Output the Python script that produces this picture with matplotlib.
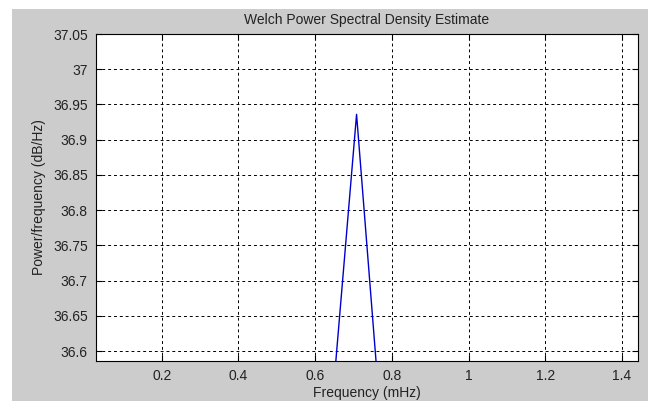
import matplotlib
matplotlib.use("Agg")
from matplotlib import pyplot as plt
from matplotlib.patches import Rectangle

plt.rcParams['font.family'] = ['Liberation Sans', 'DejaVu Sans']

# spectrum samples around the peak (mHz, dB/Hz)
freq = [0.566, 0.637, 0.708, 0.779, 0.850]
power = [36.02, 36.476, 36.936, 36.446, 35.98]

xticks = [0.2, 0.4, 0.6, 0.8, 1.0, 1.2, 1.4]
yticks = [36.6, 36.65, 36.7, 36.75, 36.8, 36.85, 36.9, 36.95, 37.0, 37.05]

fig = plt.figure(figsize=(6.48, 4.01), dpi=100, facecolor='white')
fig.patches.append(Rectangle((12 / 648, 0), 1, 1 - 9 / 401, transform=fig.transFigure,
                             facecolor='#cccccc', edgecolor='none', zorder=-10))

ax = fig.add_axes([96 / 648, 1 - 361 / 401, 542 / 648, 327 / 401])
ax.set_facecolor('white')
ax.plot(freq, power, color='#0000cc', linewidth=1.0)

ax.set_xlim(0.0287, 1.4417)
ax.set_ylim(36.586, 37.05)
ax.set_xticks(xticks)
ax.set_yticks(yticks)
ax.set_xticklabels(['%g' % t for t in xticks])
ax.set_yticklabels(['%g' % t for t in yticks])
ax.tick_params(direction='in', top=True, right=True, length=4, labelsize=10,
               labelcolor='#222222', pad=6)
ax.grid(True, color='black', linestyle=(0, (3, 3)), linewidth=0.7)
for s in ax.spines.values():
    s.set_linewidth(0.8)

ax.set_title('Welch Power Spectral Density Estimate', fontsize=10, color='#222222', pad=7)
ax.set_xlabel('Frequency (mHz)', fontsize=10, color='#222222', labelpad=2)
ax.set_ylabel('Power/frequency (dB/Hz)', fontsize=10, color='#222222', labelpad=5)

fig.savefig('out.png', dpi=100, facecolor=fig.get_facecolor())
